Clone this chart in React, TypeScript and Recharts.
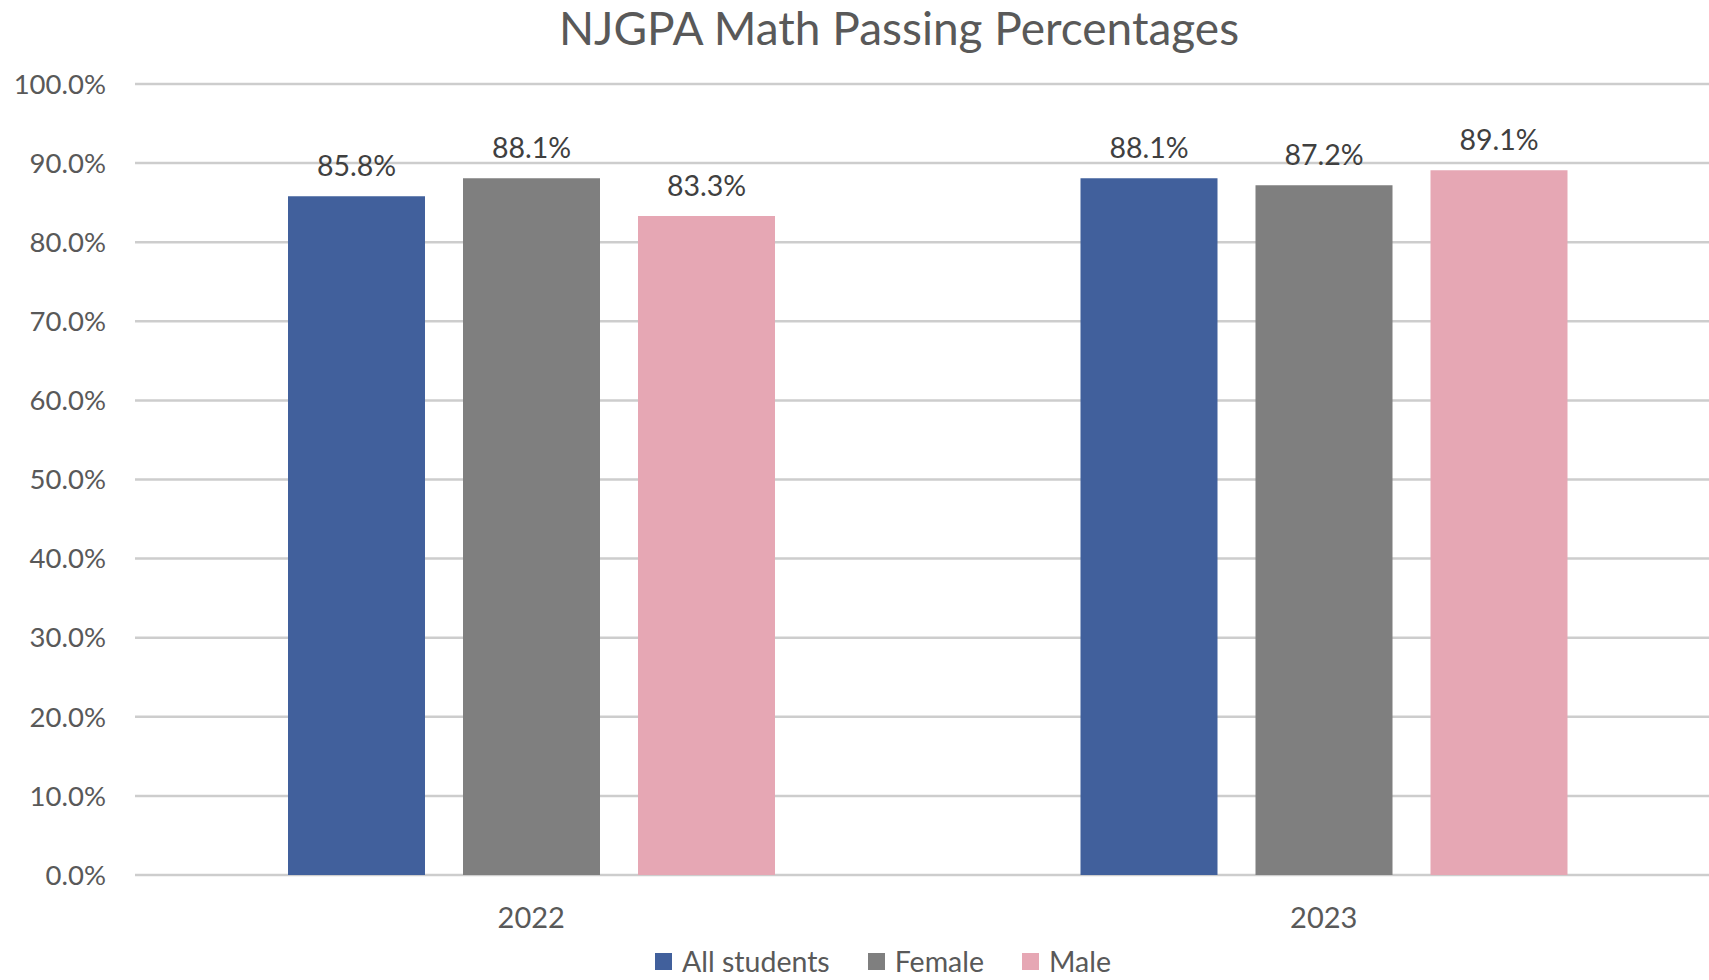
import React from 'react';
import { BarChart, Bar, XAxis, YAxis, CartesianGrid, LabelList } from 'recharts';

const years = ['2022', '2023'];
const allStudents = [85.8, 88.1];
const female = [88.1, 87.2];
const male = [83.3, 89.1];
const yTicks = [0, 10, 20, 30, 40, 50, 60, 70, 80, 90, 100];
const seriesNames = ['All students', 'Female', 'Male'];
const seriesColors = ['#41609C', '#7F7F7F', '#E6A7B4'];

const data = years.map((y, i) => ({ year: y, all: allStudents[i], female: female[i], male: male[i] }));
const keys = ['all', 'female', 'male'];

const FONT = 'Lato, "Open Sans", sans-serif';
const fmt = (v: number) => v.toFixed(1) + '%';

export default function App() {
  return (
    <div style={{ position: 'absolute', left: 0, top: 0, width: 1709, height: 980, overflow: 'hidden', background: '#fff', fontFamily: FONT }}>
      <div style={{ position: 'absolute', left: 0, top: 0, width: 1798, textAlign: 'center', fontSize: 46, color: '#595959', fontFamily: FONT }}>
        NJGPA Math Passing Percentages
      </div>
      <BarChart
        width={1720}
        height={980}
        data={data}
        margin={{ top: 84, right: 0, bottom: 45, left: 0 }}
        barSize={137}
        barGap={38}
      >
        <CartesianGrid vertical={false} stroke="#CDCDCD" strokeWidth={2.5} />
        <XAxis
          dataKey="year"
          axisLine={false}
          tickLine={false}
          tick={{ fill: '#595959', fontSize: 29, fontFamily: FONT }}
          tickMargin={26}
          height={60}
        />
        <YAxis
          domain={[0, 100]}
          ticks={yTicks}
          tickFormatter={fmt}
          axisLine={false}
          tickLine={false}
          tickSize={0}
          tickMargin={29}
          width={135}
          interval={0}
          tick={{ fill: '#595959', fontSize: 27.5, fontFamily: FONT }}
        />
        {keys.map((k, i) => (
          <Bar key={k} dataKey={k} name={seriesNames[i]} fill={seriesColors[i]} isAnimationActive={false}>
            <LabelList dataKey={k} position="top" offset={20} formatter={(v: any) => fmt(Number(v))} style={{ fill: '#404040', fontSize: 28.5, fontFamily: FONT }} />
          </Bar>
        ))}
      </BarChart>
      <div style={{ position: 'absolute', left: 0, top: 948, width: 1766, height: 26, lineHeight: '26px', display: 'flex', justifyContent: 'center', alignItems: 'center', fontSize: 28.5, color: '#595959', fontFamily: FONT }}>
        {seriesNames.map((n, i) => (
          <div key={n} style={{ display: 'flex', alignItems: 'center', marginRight: i < 2 ? 38 : 0 }}>
            <span style={{ display: 'inline-block', width: 17, height: 17, background: seriesColors[i], marginRight: 10 }} />
            <span style={{ display: 'inline-block', height: 26, lineHeight: '26px' }}>{n}</span>
          </div>
        ))}
      </div>
    </div>
  );
}
